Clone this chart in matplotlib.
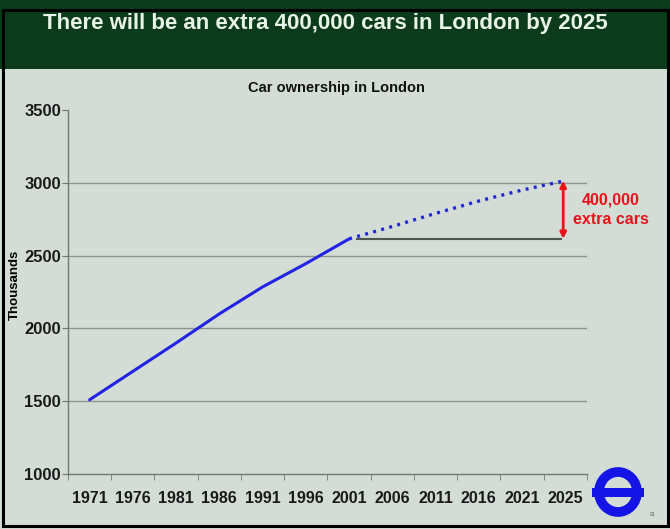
import numpy as np
import matplotlib.pyplot as plt
from matplotlib.patches import Rectangle, Ellipse

plt.rcParams['font.family'] = ['Liberation Sans', 'DejaVu Sans']

# Car ownership in London (thousands)
years = ['1971', '1976', '1981', '1986', '1991', '1996', '2001',
         '2006', '2011', '2016', '2021', '2025']
actual = [1510, 1705, 1900, 2100, 2285, 2445, 2615]
projected = [2615, 2700, 2790, 2875, 2950, 3015]
extra_cars = 400

bg = '#d3ddd5'
banner = '#0b3b1a'
blue = '#2323e6'

fig = plt.figure(figsize=(6.7, 5.29), dpi=100, facecolor=bg)

# dark green header with the headline
fig.patches.append(Rectangle((0, 1 - 69 / 529), 1, 69 / 529, transform=fig.transFigure,
                             facecolor=banner, edgecolor='none', zorder=0))
fig.text(0.485, 1 - 23 / 529, 'There will be an extra 400,000 cars in London by 2025',
         color='#e8f4e8', fontsize=16, fontweight='bold', ha='center', va='center')
# black frame
fig.patches.append(Rectangle((0.004, 0.005), 0.993, 1 - 10 / 529 - 0.005, transform=fig.transFigure,
                             facecolor='none', edgecolor='black', linewidth=2.2, zorder=5))

fig.text(0.502, 1 - 88 / 529, 'Car ownership in London', fontsize=10.5, fontweight='bold',
         ha='center', va='center', color='#111111')

ax = fig.add_axes([68 / 670, 1 - 474 / 529, (587 - 68) / 670, (474 - 110) / 529])
ax.set_facecolor('none')

x_act = np.arange(len(actual))
x_proj = np.arange(len(actual) - 1, len(years))
ax.plot(x_act, actual, color=blue, linewidth=2.2, solid_capstyle='round', zorder=3)
ax.plot(x_proj, projected, color=blue, linewidth=2.4, linestyle=(0, (0.9, 1.6)), zorder=3)

# 2001 level carried forward and the gap to 2025
base = actual[-1]
top = base + extra_cars
ax.plot([x_proj[0] + 0.18, x_proj[-1] - 0.1], [base, base], color='#4e584e', linewidth=1.5, zorder=2)
ax.annotate('', xy=(x_proj[-1] - 0.05, top), xytext=(x_proj[-1] - 0.05, base),
            arrowprops=dict(arrowstyle='<|-|>', color='#e8141c', lw=2, mutation_scale=9,
                            shrinkA=0, shrinkB=0), zorder=4)
ax.text(x_proj[-1] + 1.05, (base + top) / 2, '400,000\nextra cars', color='#e8141c',
        fontsize=11.5, fontweight='bold', ha='center', va='center', linespacing=1.3,
        clip_on=False)

ax.set_xlim(-0.5, len(years) - 0.5)
ax.set_ylim(1000, 3500)
ax.set_yticks(np.arange(1000, 3501, 500))
ax.set_xticks(np.arange(len(years)))
ax.set_xticklabels(years)
ax.set_xticks(np.arange(len(years) + 1) - 0.5, minor=True)
ax.tick_params(axis='x', which='major', length=0, pad=12, labelsize=11.5)
ax.tick_params(axis='x', which='minor', length=4, direction='out', color='#707870')
ax.tick_params(axis='y', length=4, direction='out', color='#707870', labelsize=12, pad=1)
for lab in ax.get_xticklabels() + ax.get_yticklabels():
    lab.set_fontweight('bold')
    lab.set_color('#1a1a1a')

ax.yaxis.grid(True, color='#8c968c', linewidth=1)
ax.get_ygridlines()[-1].set_visible(False)
ax.get_ygridlines()[0].set_visible(False)
ax.set_axisbelow(True)

for side in ['top', 'right']:
    ax.spines[side].set_visible(False)
for side in ['left', 'bottom']:
    ax.spines[side].set_color('#707870')
    ax.spines[side].set_linewidth(1)

ax.set_ylabel('Thousands', fontsize=9.5, fontweight='bold')
ax.yaxis.set_label_coords(-0.09, 0.52)

# roundel
logo = fig.add_axes([590 / 670, 1 - 518 / 529, 56 / 670, 52 / 529])
logo.set_xlim(-28, 28)
logo.set_ylim(-26, 26)
logo.set_aspect('equal')
logo.axis('off')
logo.add_patch(Ellipse((0, 0), 38, 40, facecolor='none', edgecolor='#1414e6', linewidth=7))
logo.add_patch(Rectangle((-26, -4.5), 52, 9, facecolor='#1414e6', edgecolor='none'))
fig.text(652 / 670, 1 - 514 / 529, '01', fontsize=3.5, color='#555555', ha='center', va='center')

fig.savefig('out.png', dpi=100, facecolor=bg)
